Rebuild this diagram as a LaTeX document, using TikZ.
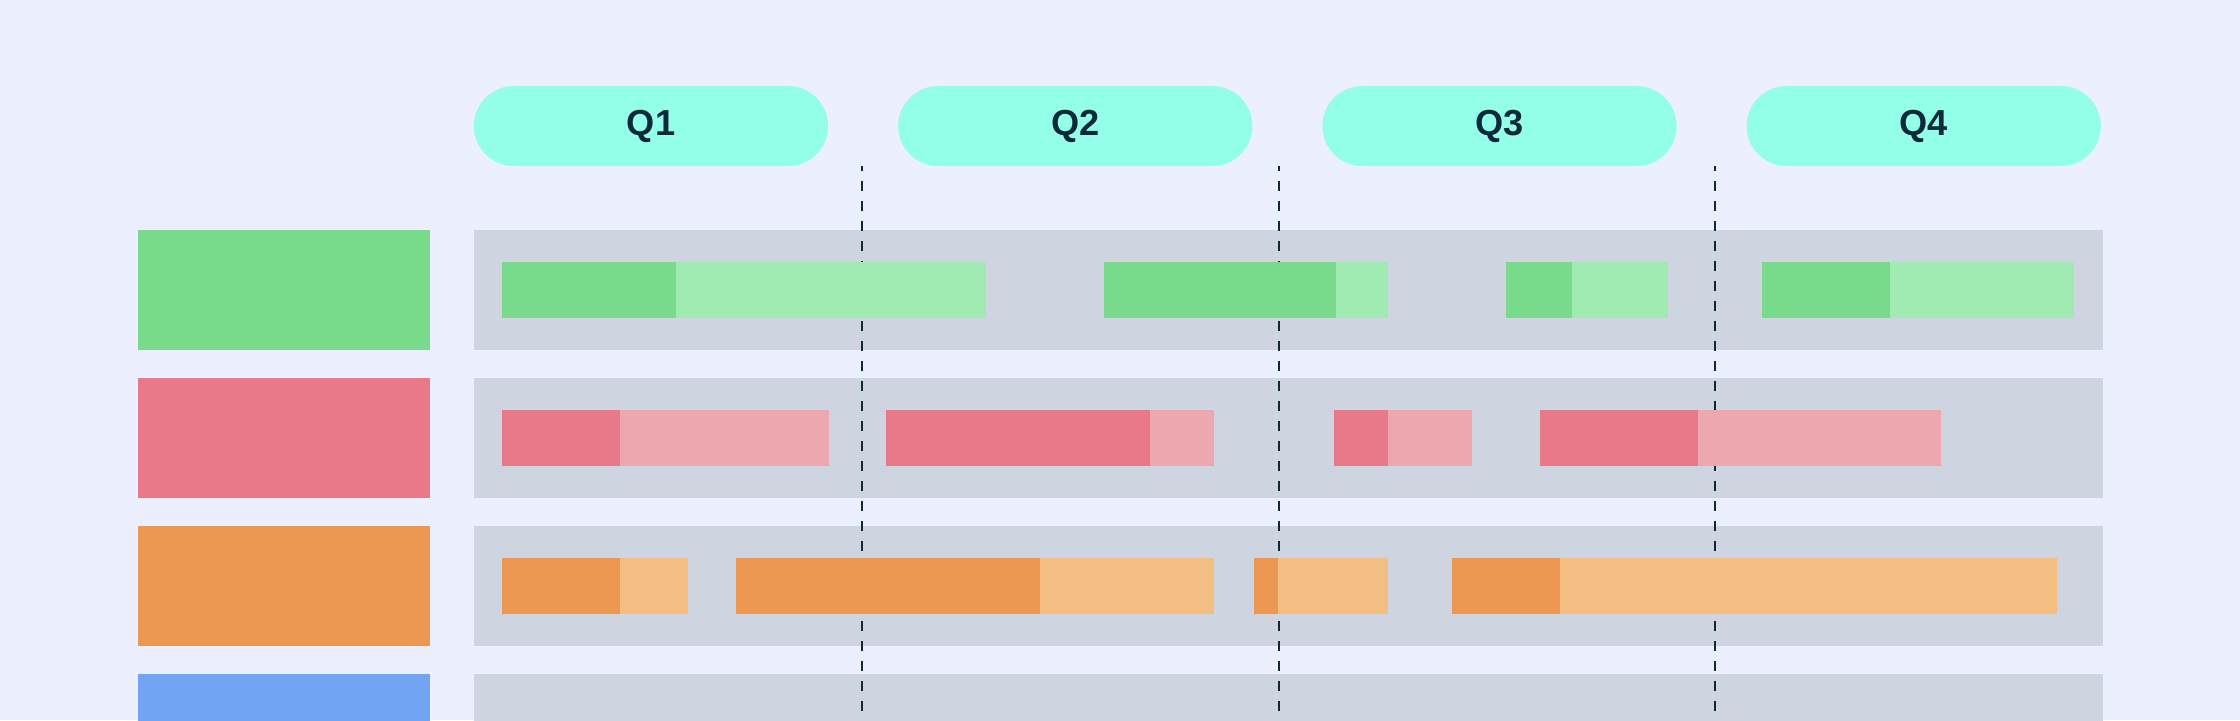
\documentclass[tikz,border=0pt]{standalone}
\usepackage{fontspec}
\setmainfont{Liberation Sans}
\usetikzlibrary{
  calc,
  positioning,
  shapes.misc}

\definecolor{bgC}{HTML}{EBEFFE}
\definecolor{trackC}{HTML}{CED5E1}
\definecolor{pillC}{HTML}{94FFE8}
\definecolor{qText}{HTML}{0E2A3A}
\definecolor{greenD}{HTML}{78DA8A}
\definecolor{greenL}{HTML}{A0EBB1}
\definecolor{redD}{HTML}{E97888}
\definecolor{redL}{HTML}{EDA7AE}
\definecolor{orangeD}{HTML}{ED9852}
\definecolor{orangeL}{HTML}{F2BE81}
\definecolor{blueD}{HTML}{71A5F3}

\begin{document}
\begin{tikzpicture}[
  x=0.01cm,y=-0.01cm,
  every node/.style={inner sep=0pt,outer sep=0pt},
  pill/.style={rounded rectangle,fill=pillC,minimum width=3.54cm,minimum height=0.8cm,
    text=qText,font=\fontsize{10.3}{12}\selectfont\bfseries},
  lbl/.style={anchor=north west,minimum width=2.92cm,minimum height=1.2cm},
  track/.style={fill=trackC,minimum width=16.28cm,minimum height=1.2cm},
  qline/.style={draw=qText,line width=0.6pt,dash pattern=on 0.1cm off 0.1cm,dash phase=0.05cm}
]%
  \fill[bgC] (0,0) rectangle (2240,720);
  \useasboundingbox (0,0) rectangle (2240,720);

  % quarter headers
  \node[pill] (q1) at (651,126) {Q1};
  \node[pill,right=0.7cm of q1] (q2) {Q2};
  \node[pill,right=0.7cm of q2] (q3) {Q3};
  \node[pill,right=0.7cm of q3] (q4) {Q4};

  % rows
  \node[lbl,fill=greenD] (lblA) at (138,230) {};
  \node[lbl,fill=redD,below=0.28cm of lblA] (lblB) {};
  \node[lbl,fill=orangeD,below=0.28cm of lblB] (lblC) {};
  \node[lbl,fill=blueD,below=0.28cm of lblC] (lblD) {};

  \node[track,right=0.44cm of lblA] (trkA) {};
  \node[track,right=0.44cm of lblB] (trkB) {};
  \node[track,right=0.44cm of lblC] (trkC) {};
  \node[track,right=0.44cm of lblD] (trkD) {};

  % quarter borders
  \coordinate (bot) at (0,720);
  \coordinate (s1) at (862,166);
  \coordinate (s2) at (1279,166);
  \coordinate (s3) at (1715,166);
  \draw[qline] (s1) -- (s1 |- bot);
  \draw[qline] (s2) -- (s2 |- bot);
  \draw[qline] (s3) -- (s3 |- bot);

  % bars
  \fill[greenD]  (502,262)  rectangle (676,318);
  \fill[greenL]  (676,262)  rectangle (986,318);
  \fill[greenD]  (1104,262) rectangle (1336,318);
  \fill[greenL]  (1336,262) rectangle (1388,318);
  \fill[greenD]  (1506,262) rectangle (1572,318);
  \fill[greenL]  (1572,262) rectangle (1668,318);
  \fill[greenD]  (1762,262) rectangle (1890,318);
  \fill[greenL]  (1890,262) rectangle (2074,318);

  \fill[redD]    (502,410)  rectangle (620,466);
  \fill[redL]    (620,410)  rectangle (829,466);
  \fill[redD]    (886,410)  rectangle (1150,466);
  \fill[redL]    (1150,410) rectangle (1214,466);
  \fill[redD]    (1334,410) rectangle (1388,466);
  \fill[redL]    (1388,410) rectangle (1472,466);
  \fill[redD]    (1540,410) rectangle (1698,466);
  \fill[redL]    (1698,410) rectangle (1941,466);

  \fill[orangeD] (502,558)  rectangle (620,614);
  \fill[orangeL] (620,558)  rectangle (688,614);
  \fill[orangeD] (736,558)  rectangle (1040,614);
  \fill[orangeL] (1040,558) rectangle (1214,614);
  \fill[orangeD] (1254,558) rectangle (1278,614);
  \fill[orangeL] (1278,558) rectangle (1388,614);
  \fill[orangeD] (1452,558) rectangle (1560,614);
  \fill[orangeL] (1560,558) rectangle (2057,614);

\end{tikzpicture}
\end{document}
